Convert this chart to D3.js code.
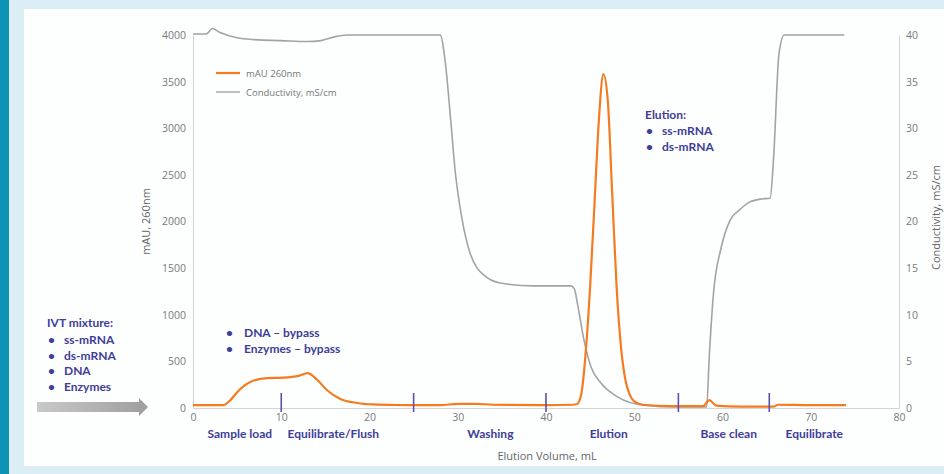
<!DOCTYPE html>
<html>
<head>
<meta charset="utf-8">
<script src="https://cdn.jsdelivr.net/npm/d3@7"></script>
<style>
  body { margin: 0; background: #dbeef6; }
  svg { display: block; }
  .tick text { font-family: "Open Sans", sans-serif; font-size: 10.5px; fill: #7a7a7a; }
  .note { font-family: Lato, sans-serif; font-weight: bold; font-size: 12px; fill: #3d3d9a; }
</style>
</head>
<body>
<svg id="chart" width="944" height="474"></svg>
<script>
// UV trace (mAU 260nm) vs elution volume
const uvVolume = [0, 3.4, 4.2, 5.0, 6.5, 8.4, 10.2, 12.0, 13.0, 14.1, 15.2, 16.7, 18.6, 20.4, 23, 28, 30, 32, 34, 40,
    43.0, 43.5, 44.0, 44.5, 45.0, 45.5, 46.0, 46.5, 47.0, 47.5, 48.0, 48.5, 49.0, 49.5, 50.0, 51.0, 54,
    57.8, 58.5, 59.3, 62, 65.8, 66.3, 70, 74];
const uvValues = [30, 30, 80, 170, 280, 320, 325, 345, 375, 300, 190, 97, 54, 38, 32, 30, 45, 45, 35, 30,
    35, 40, 150, 600, 1300, 2200, 3100, 3580, 3300, 2300, 1300, 650, 300, 140, 70, 35, 20,
    20, 85, 25, 15, 15, 35, 30, 30];

// conductivity trace (mS/cm)
const condVolume = [0, 1.5, 2.2, 3, 5, 7, 10, 13, 14.5, 16, 17.5, 28, 28.6, 29.2, 29.7, 30.5, 31.4, 32.2, 32.9, 34.8,
    38.6, 42.8, 43.2, 43.6, 44.3, 45.1, 46.2, 48.1, 51.1, 54.9, 58.2, 58.5, 59.0, 59.8, 60.9, 62.0, 62.9,
    64.3, 65.4, 65.8, 66.4, 67.0, 73.8];
const condValues = [40.1, 40.1, 40.7, 40.3, 39.7, 39.5, 39.4, 39.3, 39.4, 39.8, 40.0, 40.0, 37, 30.9, 25.5, 20.2, 16.6, 15.0, 14.3, 13.4,
    13.1, 13.1, 12.8, 11, 7.3, 4.4, 2.7, 1.2, 0.3, 0.1, 0.1, 5.5, 12.5, 17.0, 20.2, 21.3, 22.0,
    22.4, 22.5, 27, 38, 40, 40];

const xTicks = [0, 10, 20, 30, 40, 50, 60, 70, 80];
const leftTicks = [0, 500, 1000, 1500, 2000, 2500, 3000, 3500, 4000];
const rightTicks = [0, 5, 10, 15, 20, 25, 30, 35, 40];

// process phase boundaries and labels
const phaseMarks = [10, 25, 40, 55, 65.3];
const phaseLabels = ["Sample load", "Equilibrate/Flush", "Washing", "Elution", "Base clean", "Equilibrate"];
const phaseLabelAt = [5.3, 15.9, 33.7, 47.1, 60.7, 70.4];

const ivtNotes = ["ss-mRNA", "ds-mRNA", "DNA", "Enzymes"];
const bypassNotes = ["DNA \u2013 bypass", "Enzymes \u2013 bypass"];
const elutionNotes = ["ss-mRNA", "ds-mRNA"];

const orange = "#f47b20";
const grey = "#a3a3a3";

const svg = d3.select("#chart");

// background panels
svg.append("rect").attr("width", 944).attr("height", 474).attr("fill", "#dbeef6");
svg.append("rect").attr("x", 24).attr("y", 9).attr("width", 920).attr("height", 457).attr("fill", "#fdfefe");
svg.append("rect").attr("width", 9).attr("height", 474).attr("fill", "#0e93b6");

const x = d3.scaleLinear().domain([0, 80]).range([193, 899]);
const yLeft = d3.scaleLinear().domain([0, 4000]).range([408, 35]);
const yRight = d3.scaleLinear().domain([0, 40]).range([408, 35]);

// axes
const xAxis = svg.append("g")
    .attr("transform", `translate(0,${yLeft(0)})`)
    .call(d3.axisBottom(x).tickValues(xTicks).tickSize(0).tickPadding(6));
xAxis.select(".domain").attr("stroke", "#d4d4d4");

const leftAxis = svg.append("g")
    .attr("transform", `translate(${x(0)},0)`)
    .call(d3.axisLeft(yLeft).tickValues(leftTicks).tickFormat(d3.format("d")).tickSize(0).tickPadding(7));
leftAxis.selectAll(".domain").attr("stroke", "#d4d4d4");

const rightAxis = svg.append("g")
    .attr("transform", `translate(${x(80)},0)`)
    .call(d3.axisRight(yRight).tickValues(rightTicks).tickSize(0).tickPadding(7));
rightAxis.selectAll(".domain").attr("stroke", "#d4d4d4");

// axis titles
svg.append("text")
    .attr("transform", `translate(150,${(yLeft(0) + yLeft(4000)) / 2}) rotate(-90)`)
    .attr("text-anchor", "middle")
    .attr("font-family", "Open Sans, sans-serif").attr("font-size", 11).attr("fill", "#666")
    .text("mAU, 260nm");
svg.append("text")
    .attr("transform", `translate(940,${(yRight(0) + yRight(40)) / 2 - 4}) rotate(-90)`)
    .attr("text-anchor", "middle")
    .attr("font-family", "Open Sans, sans-serif").attr("font-size", 11).attr("fill", "#666")
    .text("Conductivity, mS/cm");
svg.append("text")
    .attr("x", 547).attr("y", 460)
    .attr("text-anchor", "middle")
    .attr("font-family", "Open Sans, sans-serif").attr("font-size", 11).attr("fill", "#666")
    .text("Elution Volume, mL");

// traces
const condLine = d3.line()
    .x((d, i) => x(condVolume[i]))
    .y(d => yRight(d))
    .curve(d3.curveMonotoneX);
svg.append("path")
    .attr("d", condLine(condValues))
    .attr("fill", "none").attr("stroke", grey).attr("stroke-width", 1.6);

const uvLine = d3.line()
    .x((d, i) => x(uvVolume[i]))
    .y(d => yLeft(d))
    .curve(d3.curveMonotoneX);
svg.append("path")
    .attr("d", uvLine(uvValues))
    .attr("fill", "none").attr("stroke", orange).attr("stroke-width", 2.2);

// phase markers
svg.append("g").selectAll("line")
    .data(phaseMarks)
    .join("line")
    .attr("x1", d => x(d)).attr("x2", d => x(d))
    .attr("y1", yLeft(0) - 15).attr("y2", yLeft(0) + 4)
    .attr("stroke", "#5a52ad").attr("stroke-width", 1.6);

svg.append("g").selectAll("text")
    .data(phaseLabels)
    .join("text")
    .attr("class", "note")
    .attr("x", (d, i) => x(phaseLabelAt[i]))
    .attr("y", 438)
    .attr("text-anchor", "middle")
    .text(d => d);

// legend
const legend = svg.append("g").attr("transform", "translate(216,73)");
[["mAU 260nm", orange, 2.2], ["Conductivity, mS/cm", grey, 1.4]].forEach((item, i) => {
    legend.append("line")
        .attr("x1", 0).attr("x2", 24).attr("y1", i * 19).attr("y2", i * 19)
        .attr("stroke", item[1]).attr("stroke-width", item[2]);
    legend.append("text")
        .attr("x", 30).attr("y", i * 19 + 3.5)
        .attr("font-family", "Open Sans, sans-serif").attr("font-size", 9.5).attr("fill", "#777")
        .text(item[0]);
});

// bullet lists
const bulletList = (items, bx, tx, y0, step) => {
    items.forEach((t, i) => {
        svg.append("text").attr("class", "note").attr("x", bx).attr("y", y0 + i * step)
            .attr("font-size", 9).text("\u2022");
        svg.append("text").attr("class", "note").attr("x", tx).attr("y", y0 + i * step).text(t);
    });
};

svg.append("text").attr("class", "note").attr("x", 47).attr("y", 327).text("IVT mixture:");
bulletList(ivtNotes, 48, 64, 344, 15.5);
bulletList(bypassNotes, 226, 244, 337, 16);
svg.append("text").attr("class", "note").attr("x", 645).attr("y", 119).text("Elution:");
bulletList(elutionNotes, 646, 662, 135, 16);

// feed arrow
const grad = svg.append("defs").append("linearGradient").attr("id", "arrowGrad");
grad.append("stop").attr("offset", "0%").attr("stop-color", "#c9c9c9");
grad.append("stop").attr("offset", "100%").attr("stop-color", "#9e9e9e");
svg.append("path")
    .attr("d", d3.line()([[37, 402], [139, 402], [139, 398], [148, 407], [139, 416], [139, 412], [37, 412]]) + "Z")
    .attr("fill", "url(#arrowGrad)");
</script>
</body>
</html>
